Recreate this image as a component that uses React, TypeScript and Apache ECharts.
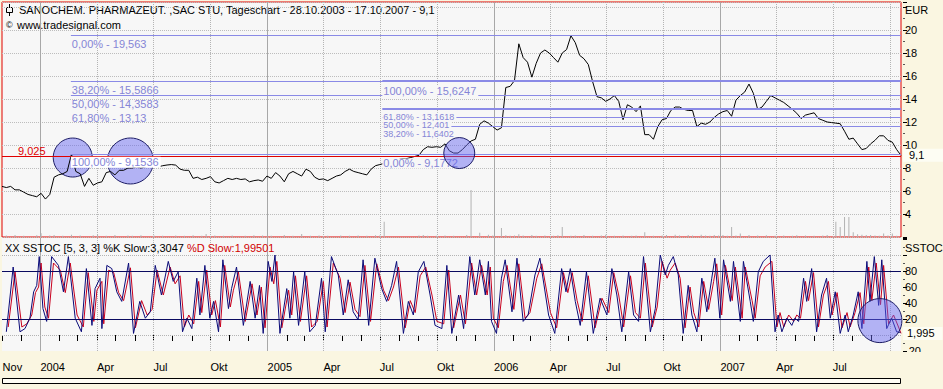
import React, { useEffect, useRef } from 'react';
import * as echarts from 'echarts';

const FONT = 'Liberation Sans';
const DAY = 86400000;
const START = Date.UTC(2003, 9, 31);
const SPAN_DAYS = 1449;
const END = START + SPAN_DAYS * DAY;
const WEEK = 7;

// weekly closing prices (EUR), first week = 31.10.2003
const priceWeekly = [
  6.4, 6.3, 6.4, 6.1, 6.1, 5.9, 5.7, 5.6, 5.5, 5.8,
  5.3, 5.7, 7.2, 7.4, 7.5, 7.7, 9.2, 7.7, 7.5, 6.4,
  7.1, 6.5, 6.7, 6.8, 7.6, 7.7, 7.4, 7.8, 7.8, 8.0,
  8.0, 8.1, 8.0, 8.1, 8.2, 8.26, 8.1, 8.2, 8.26, 8.3,
  8.25, 7.9, 7.8, 7.8, 7.1, 7.2, 7.0, 7.1, 7.25, 6.8,
  6.7, 6.9, 7.1, 7.0, 7.1, 7.0, 7.05, 6.8, 6.9, 6.96,
  6.85, 7.3, 7.1, 7.6, 7.3, 6.8, 7.5, 7.7, 7.5, 7.3,
  7.9, 7.7, 7.2, 7.0, 7.05, 6.9, 7.1, 7.3, 7.4, 7.7,
  7.9, 7.7, 7.6, 7.5, 7.4, 7.9, 8.2, 8.3, 8.4, 8.5,
  8.6, 8.7, 8.8, 8.8, 8.9, 9.0, 9.1, 9.6, 9.85, 9.8,
  9.85, 9.8, 10.1, 9.5, 9.3, 9.3, 9.6, 10.0, 10.35, 10.5,
  11.8, 12.1, 11.9, 11.6, 11.3, 11.5, 15.0, 15.1, 15.6, 18.8,
  17.6, 17.2, 15.9, 17.1, 18.0, 18.26, 18.0, 17.6, 17.2, 18.0,
  18.3, 19.5, 18.9, 17.8, 17.5, 17.0, 15.5, 14.2, 14.1, 13.8,
  14.0, 14.3, 13.8, 12.2, 13.5, 13.3, 12.9, 13.4, 10.9, 10.9,
  10.5, 11.6, 12.2, 12.3, 13.0, 13.3, 13.3, 13.1, 13.0, 13.0,
  11.6, 11.9, 11.8, 12.0, 12.4, 12.7, 12.9, 13.0, 12.5, 13.9,
  14.3, 14.6, 15.3, 14.5, 13.1, 13.3, 13.8, 14.3, 14.1, 13.9,
  13.7, 13.4, 13.1, 12.76, 12.3, 12.6, 12.7, 12.8, 12.3, 12.15,
  12.0, 11.95, 11.9, 11.85, 11.2, 10.5, 10.6, 10.1, 9.6, 9.7,
  10.1, 10.4, 10.8, 10.8, 10.4, 10.25, 9.6, 9.1,
];

// weekly volume (relative units)
const volumeWeekly = [
  0, 0.6, 0, 0.8, 0, 0.5, 0, 0, 0.7, 1.6,
  0, 0.6, 0.9, 0, 0.5, 0, 1.0, 0, 0.6, 0,
  0, 0.7, 1.2, 0, 0.5, 0, 0.8, 0, 0, 0.6,
  0.5, 0, 0.7, 0, 0, 0.6, 0, 0.5, 0, 0,
  0.6, 0, 0.5, 0, 0.7, 0, 0.5, 1.3, 0, 0.6,
  0, 0.5, 0, 0.6, 0, 0, 0.5, 0, 0.7, 0,
  0.6, 0, 0.5, 0, 0, 0.8, 0, 0.5, 0, 1.3,
  0, 0.5, 0, 0.6, 0, 0.5, 0, 0, 0.6, 0,
  0.5, 0, 0.6, 0, 0.5, 0, 0.7, 0.6, 6.5, 0,
  0, 0, 0, 0, 0, 0, 0.6, 0.8, 0.5, 0,
  0.5, 0, 0.6, 0, 0.5, 0, 0, 0.8, 20, 0,
  1.8, 0, 1.0, 0.6, 0, 3.8, 0.7, 0.5, 0.6, 1.2,
  0.6, 0, 0.9, 0.5, 0, 0.6, 0, 0.5, 0.7, 4.3,
  0, 0.5, 0.6, 0, 0.8, 0, 0.5, 0, 0.6, 1.0,
  0, 0.5, 0, 0.6, 0, 0.5, 0.6, 0, 2.0, 0,
  0.5, 0, 0.6, 0.8, 0, 1.0, 0.6, 0, 0.8, 0.6,
  0, 1.0, 0.6, 0.5, 0.9, 0.6, 0.8, 0.5, 4.3, 0.6,
  1.5, 0, 0.8, 0, 0.6, 0, 0.7, 0, 0.5, 0,
  0.6, 0, 0.5, 0.7, 0, 0.6, 0, 0.5, 0, 0.6,
  0.8, 0, 6.5, 4.3, 8.5, 8.5, 2.0, 1.2, 1.0, 0.8,
  0.8, 0.6, 0.5, 1.5, 0.6, 1.5, 0.5, 0,
];

// Slow stochastic %K turning points: [day since 31.10.2003, value]
const stochK: [number, number][] = [
  [7, 4], [18, 85], [29, 4], [37, 8], [45, 21], [51, 54], [56, 62], [60, 98], [66, 33], [72, 17],
  [80, 98], [91, 87], [99, 54], [107, 98], [118, 21], [128, 4], [136, 83], [145, 12], [150, 58], [158, 71],
  [161, 8], [169, 87], [177, 83], [185, 54], [193, 42], [204, 90], [212, 2], [222, 42], [231, 21], [239, 29],
  [247, 87], [257, 50], [268, 92], [276, 67], [284, 79], [291, 4], [298, 21], [306, 8], [314, 71], [319, 25],
  [327, 87], [335, 21], [341, 42], [349, 4], [356, 94], [365, 33], [370, 58], [378, 85], [389, 12], [400, 67],
  [408, 21], [415, 62], [421, 2], [429, 92], [435, 67], [440, 100], [448, 2], [459, 58], [464, 21], [470, 79],
  [478, 12], [488, 79], [496, 4], [505, 12], [515, 71], [521, 4], [531, 98], [542, 75], [550, 25], [558, 69],
  [566, 29], [574, 19], [582, 94], [591, 12], [601, 96], [612, 58], [620, 42], [628, 62], [636, 92], [647, 2],
  [655, 42], [663, 25], [671, 79], [680, 92], [690, 50], [698, 12], [709, 8], [717, 87], [725, 2], [736, 50],
  [744, 8], [754, 98], [762, 50], [770, 94], [779, 50], [784, 92], [789, 17], [797, 2], [805, 71], [811, 94],
  [822, 29], [830, 96], [840, 17], [848, 25], [859, 75], [867, 96], [881, 25], [891, 2], [902, 83], [909, 54],
  [916, 83], [924, 42], [932, 12], [942, 79], [953, 2], [964, 46], [975, 25], [983, 83], [991, 50], [999, 4],
  [1010, 79], [1018, 25], [1026, 17], [1034, 98], [1045, 4], [1053, 33], [1061, 100], [1069, 75], [1074, 87], [1082, 98],
  [1090, 75], [1098, 2], [1106, 62], [1112, 25], [1120, 4], [1128, 71], [1136, 29], [1144, 71], [1149, 96], [1157, 21],
  [1163, 94], [1174, 42], [1179, 92], [1190, 17], [1195, 92], [1206, 42], [1211, 17], [1219, 79], [1227, 92], [1238, 100],
  [1246, 4], [1251, 25], [1257, 4], [1265, 21], [1273, 12], [1278, 21], [1284, 17], [1292, 71], [1297, 42], [1305, 83],
  [1313, 4], [1321, 50], [1329, 71], [1335, 21], [1343, 54], [1351, 2], [1359, 25], [1364, 4], [1372, 25], [1380, 54],
  [1386, 8], [1394, 92], [1399, 42], [1406, 98], [1413, 37], [1418, 94], [1426, 8], [1434, 21], [1442, 4], [1448, 3.3],
];

// Slow stochastic %D turning points
const stochD: [number, number][] = [
  [10, 10], [21, 79], [32, 10], [40, 14], [48, 25], [54, 53], [59, 60], [63, 90], [69, 35], [75, 21],
  [83, 90], [94, 81], [102, 53], [110, 90], [121, 25], [131, 10], [139, 78], [148, 17], [153, 56], [161, 67],
  [164, 14], [172, 81], [180, 78], [188, 53], [196, 43], [207, 84], [215, 9], [225, 43], [234, 25], [242, 32],
  [250, 81], [260, 50], [271, 85], [279, 64], [287, 74], [294, 10], [301, 25], [309, 14], [317, 67], [322, 28],
  [330, 81], [338, 25], [344, 43], [352, 10], [359, 87], [368, 35], [373, 56], [381, 79], [392, 17], [403, 64],
  [411, 25], [418, 60], [424, 9], [432, 85], [438, 64], [443, 92], [451, 9], [462, 56], [467, 25], [473, 74],
  [481, 17], [491, 74], [499, 10], [508, 17], [518, 67], [524, 10], [534, 90], [545, 71], [553, 28], [561, 66],
  [569, 32], [577, 23], [585, 87], [594, 17], [604, 89], [615, 56], [623, 43], [631, 60], [639, 85], [650, 9],
  [658, 43], [666, 28], [674, 74], [683, 85], [693, 50], [701, 17], [712, 14], [720, 81], [728, 9], [739, 50],
  [747, 14], [757, 90], [765, 50], [773, 87], [782, 50], [787, 85], [792, 21], [800, 9], [808, 67], [814, 87],
  [825, 32], [833, 89], [843, 21], [851, 28], [862, 71], [870, 89], [884, 28], [894, 9], [905, 78], [912, 53],
  [919, 78], [927, 43], [935, 17], [945, 74], [956, 9], [967, 46], [978, 28], [986, 78], [994, 50], [1002, 10],
  [1013, 74], [1021, 28], [1029, 21], [1037, 90], [1048, 10], [1056, 35], [1064, 92], [1072, 71], [1077, 81], [1085, 90],
  [1093, 71], [1101, 9], [1109, 60], [1115, 28], [1123, 10], [1131, 67], [1139, 32], [1147, 67], [1152, 89], [1160, 25],
  [1166, 87], [1177, 43], [1182, 85], [1193, 21], [1198, 85], [1209, 43], [1214, 21], [1222, 74], [1230, 85], [1241, 92],
  [1249, 10], [1254, 28], [1260, 10], [1268, 25], [1276, 17], [1281, 25], [1287, 21], [1295, 67], [1300, 43], [1308, 78],
  [1316, 10], [1324, 50], [1332, 67], [1338, 25], [1346, 53], [1354, 9], [1362, 28], [1367, 10], [1375, 28], [1383, 53],
  [1389, 14], [1397, 85], [1402, 43], [1409, 90], [1416, 38], [1421, 87], [1429, 14], [1437, 25], [1445, 10], [1449, 2],
];

// Fibonacci retracements
const fibLeftStart = 111;
const fibLeftLevels = [19.563, 15.5866, 14.3583, 13.13, 9.1536];
const fibLeftPct = ['0,00%', '38,20%', '50,00%', '61,80%', '100,00%'];
const fibRightStart = 613;
const fibRightLevels = [15.6247, 13.1618, 12.401, 11.6402, 9.1772];
const fibRightPct = ['100,00%', '61,80%', '50,00%', '38,20%', '0,00%'];
const supportLevel = 9.025;
const lastPrice = 9.1;
const lastD = 1.995;

// marker circles (price panel / stochastic panel)
const circleDays = [114, 207, 737];
const circleVals = [8.91, 8.61, 9.3];
const circleSizes = [39, 46, 31];
const stochCircleDay = 1415;
const stochCircleVal = 18;
const stochCircleSize = 44;

const MONTHS_DE = ['Jan', 'Feb', 'Mär', 'Apr', 'Mai', 'Jun', 'Jul', 'Aug', 'Sep', 'Okt', 'Nov', 'Dez'];

const monthStarts: number[] = [];
{
  let y = 2003;
  let m = 10;
  while (y < 2007 || (y === 2007 && m <= 9)) {
    monthStarts.push(Date.UTC(y, m, 1));
    m++;
    if (m > 11) { m = 0; y++; }
  }
}
const labelStarts = monthStarts.filter((t, i) => {
  const m = new Date(t).getUTCMonth();
  return (i === 0 || m % 3 === 0) && t < Date.UTC(2007, 8, 1);
});
const yearStarts = monthStarts.filter((t) => new Date(t).getUTCMonth() === 0);
const quarterStarts = monthStarts.filter((t) => {
  const m = new Date(t).getUTCMonth();
  return m % 3 === 0 && m !== 0;
});

const dayTs = (d: number) => START + d * DAY;
const fmtNum = (v: number) => String(v).replace('.', ',');

const FIB_LINE = '#8a8ae6';
const FIB_TEXT = '#8585d6';
const PLOT_BG = '#f7f7f7';
const CREAM = '#faf6e1';
const CLEAR = 'rgba(0,0,0,0)';
const CIRCLE_FILL = 'rgba(100,100,240,0.47)';
const CIRCLE_EDGE = '#1e1e66';

function fibLabel(text: string, dy: number, lh: number, bg: string, fs: number) {
  return {
    show: true,
    position: 'insideStartBottom',
    distance: [0, dy],
    formatter: text,
    color: FIB_TEXT,
    opacity: 1,
    fontSize: fs,
    fontFamily: FONT,
    lineHeight: lh,
    backgroundColor: bg,
    padding: [0, 2, 0, 1],
  };
}

function buildFibLines() {
  const items: any[] = [];
  const leftCfg = [
    { dy: 5, lh: 8 }, { dy: 5, lh: 8 }, { dy: 5, lh: 8 }, { dy: 5, lh: 8 }, { dy: 2, lh: 11 },
  ];
  fibLeftLevels.forEach((lvl, i) => {
    const text = fibLeftPct[i] + ' - ' + fmtNum(lvl);
    const bg = i === 4 ? '#ffffff' : PLOT_BG;
    if (i === 3) {
      items.push([
        { coord: [dayTs(fibLeftStart), lvl], lineStyle: { color: CLEAR, width: 1, type: 'solid' }, label: fibLabel(text, leftCfg[i].dy, leftCfg[i].lh, bg, 11) },
        { coord: [dayTs(fibRightStart), lvl] },
      ]);
      items.push([
        { coord: [dayTs(fibRightStart), lvl], lineStyle: { color: FIB_LINE, width: 1, type: 'solid' }, label: { show: false } },
        { coord: [END, lvl] },
      ]);
    } else {
      items.push([
        { coord: [dayTs(fibLeftStart), lvl], lineStyle: { color: FIB_LINE, width: 1, type: 'solid' }, label: fibLabel(text, leftCfg[i].dy, leftCfg[i].lh, bg, 11) },
        { coord: [END, lvl] },
      ]);
    }
  });
  const rightCfg = [
    { dy: 5, lh: 11, fs: 11 }, { dy: 4, lh: 8, fs: 9 }, { dy: 4, lh: 8, fs: 9 }, { dy: 4, lh: 8, fs: 9 }, { dy: 4, lh: 10, fs: 11 },
  ];
  fibRightLevels.forEach((lvl, i) => {
    const text = fibRightPct[i] + ' - ' + fmtNum(lvl);
    items.push([
      { coord: [dayTs(fibRightStart), lvl], lineStyle: { color: FIB_LINE, width: 1, type: 'solid' }, label: fibLabel(text, rightCfg[i].dy, rightCfg[i].lh, PLOT_BG, rightCfg[i].fs) },
      { coord: [END, lvl] },
    ]);
  });
  return items;
}

function verticalGrid() {
  return [
    ...yearStarts.map((t) => ({ xAxis: t, lineStyle: { color: '#a8a8a8', type: 'solid', width: 1 } })),
    ...quarterStarts.map((t) => ({ xAxis: t, lineStyle: { color: '#b4b4b4', type: 'dotted', width: 1 } })),
  ];
}

export default function App() {
  const ref = useRef<HTMLDivElement>(null);

  useEffect(() => {
    if (!ref.current) return;
    const chart = echarts.init(ref.current, undefined, { renderer: 'svg' });

    const priceData = priceWeekly.map((v, i) => [START + i * WEEK * DAY, v]);
    const volData = volumeWeekly.map((v, i) => [START + i * WEEK * DAY, v]);
    const kData = stochK.map(([d, v]) => [dayTs(d), v]);
    const dData = stochD.map(([d, v]) => [dayTs(d), v]);

    const priceTop = 2 + 235 / 11.5;

    const valueLabel = (text: string, pad: number[]) => ({
      show: true, position: 'end', distance: [2, 0], formatter: text,
      color: '#000', opacity: 1, fontSize: 11, fontFamily: FONT, lineHeight: 11,
      backgroundColor: '#fdfdf3', padding: pad,
    });

    const option: any = {
      animation: false,
      backgroundColor: CREAM,
      textStyle: { fontFamily: FONT },
      grid: [
        { left: 2, top: 2, width: 899, height: 235, show: true, backgroundColor: PLOT_BG, borderColor: '#e00000', borderWidth: 1, containLabel: false, outerBoundsMode: 'none' },
        { left: 2, top: 238, width: 899, height: 113, show: true, backgroundColor: PLOT_BG, borderWidth: 0, containLabel: false, outerBoundsMode: 'none' },
      ],
      xAxis: [
        {
          type: 'value', gridIndex: 0, min: START, max: END,
          axisLabel: { show: false }, axisTick: { show: false }, axisLine: { show: false }, splitLine: { show: false },
        },
        {
          type: 'value', gridIndex: 1, min: START, max: END,
          axisLine: { show: false },
          splitLine: { show: false },
          axisTick: { show: true, length: 6, lineStyle: { color: '#000', width: 1 }, customValues: monthStarts },
          axisLabel: {
            show: true,
            customValues: labelStarts,
            formatter: (v: number) => {
              const d = new Date(v);
              const m = d.getUTCMonth();
              return m === 0 ? String(d.getUTCFullYear()) : MONTHS_DE[m];
            },
            align: 'left',
            margin: 10,
            color: '#000',
            fontSize: 11,
            fontFamily: FONT,
          },
        },
      ],
      yAxis: [
        {
          type: 'value', gridIndex: 0, position: 'right', offset: 2,
          min: 2, max: priceTop, interval: 2,
          axisLine: { show: false },
          axisTick: { show: true, length: 4, lineStyle: { color: '#000' } },
          minorTick: { show: true, splitNumber: 2, length: 2, lineStyle: { color: '#555' } },
          splitLine: { show: true, lineStyle: { color: '#bdbdbd', type: 'dotted', width: 1 } },
          minorSplitLine: { show: false },
          axisLabel: {
            formatter: (v: number) => (v >= 4 && v <= 20 ? String(v) : ''),
            margin: 2, color: '#000', fontSize: 11, fontFamily: FONT,
          },
        },
        { type: 'value', gridIndex: 0, show: false, min: 0, max: 100 },
        {
          type: 'value', gridIndex: 1, position: 'right', offset: 2,
          min: -20, max: 121.25, interval: 20,
          axisLine: { show: false },
          axisTick: { show: true, length: 4, lineStyle: { color: '#000' } },
          minorTick: { show: true, splitNumber: 2, length: 2, lineStyle: { color: '#555' } },
          splitLine: { show: false },
          axisLabel: {
            formatter: (v: number) => ([80, 60, 40, 20, -20].indexOf(v) >= 0 ? String(v) : ''),
            margin: 2, color: '#000', fontSize: 11, fontFamily: FONT,
          },
        },
      ],
      series: [
        {
          name: 'Volumen', type: 'bar', xAxisIndex: 0, yAxisIndex: 1,
          data: volData, barWidth: 1, silent: true, z: 1,
          itemStyle: { color: '#b2b2b2' },
          markLine: {
            z: 1, silent: true, symbol: 'none', animation: false,
            label: { show: false },
            data: verticalGrid(),
          },
        },
        {
          name: 'Kurs', type: 'line', xAxisIndex: 0, yAxisIndex: 0,
          data: priceData, showSymbol: false, silent: true, z: 4,
          lineStyle: { color: '#000', width: 1 },
          markLine: {
            z: 5, silent: true, symbol: 'none', animation: false,
            data: [
              ...buildFibLines(),
              {
                yAxis: supportLevel,
                lineStyle: { color: '#e00000', width: 1, type: 'solid' },
                label: { show: true, position: 'insideStartTop', distance: [16, 0], formatter: fmtNum(supportLevel), color: '#e00000', fontSize: 11, fontFamily: FONT, lineHeight: 10 },
              },
              {
                yAxis: lastPrice,
                lineStyle: { color: CLEAR, width: 1, type: 'solid' },
                label: valueLabel(fmtNum(lastPrice), [1, 20, 1, 6]),
              },
            ],
          },
        },
        {
          name: 'Kreise', type: 'scatter', xAxisIndex: 0, yAxisIndex: 0, silent: true, z: 3,
          symbol: 'circle',
          data: circleDays.slice(0, 2).map((d, i) => ({ value: [dayTs(d), circleVals[i]], symbolSize: circleSizes[i] })),
          itemStyle: { color: CIRCLE_FILL, borderColor: CIRCLE_EDGE, borderWidth: 1, opacity: 1 },
        },
        {
          name: 'Kreis2', type: 'scatter', xAxisIndex: 0, yAxisIndex: 0, silent: true, z: 6,
          symbol: 'circle',
          data: circleDays.slice(2).map((d, i) => ({ value: [dayTs(d), circleVals[i + 2]], symbolSize: circleSizes[i + 2] })),
          itemStyle: { color: CIRCLE_FILL, borderColor: CIRCLE_EDGE, borderWidth: 1, opacity: 1 },
        },
        {
          name: '%D Slow', type: 'line', xAxisIndex: 1, yAxisIndex: 2,
          data: dData, showSymbol: false, silent: true, z: 2,
          lineStyle: { color: '#c8001e', width: 1 },
          markLine: {
            z: 1, silent: true, symbol: 'none', animation: false,
            label: { show: false },
            data: [
              ...verticalGrid(),
              { yAxis: 100, lineStyle: { color: '#b4b4b4', type: 'dotted', width: 1 } },
              { yAxis: 0, lineStyle: { color: '#b4b4b4', type: 'dotted', width: 1 } },
            ],
          },
        },
        {
          name: '%K Slow', type: 'line', xAxisIndex: 1, yAxisIndex: 2,
          data: kData, showSymbol: false, silent: true, z: 3,
          lineStyle: { color: '#0a0a78', width: 1 },
          markLine: {
            z: 4, silent: true, symbol: 'none', animation: false,
            data: [
              { yAxis: 80, lineStyle: { color: '#0a0a60', type: 'solid', width: 1 }, label: { show: false } },
              { yAxis: 20, lineStyle: { color: '#0a0a60', type: 'solid', width: 1 }, label: { show: false } },
              {
                yAxis: lastD,
                lineStyle: { color: CLEAR, width: 1, type: 'solid' },
                label: valueLabel(fmtNum(lastD), [1, 8, 1, 4]),
              },
            ],
          },
        },
        {
          name: 'KreisS', type: 'scatter', xAxisIndex: 1, yAxisIndex: 2, silent: true, z: 6,
          symbol: 'circle',
          data: [{ value: [dayTs(stochCircleDay), stochCircleVal], symbolSize: stochCircleSize }],
          itemStyle: { color: CIRCLE_FILL, borderColor: CIRCLE_EDGE, borderWidth: 1, opacity: 1 },
        },
      ],
      graphic: [
        { type: 'line', shape: { x1: 9.5, y1: 4, x2: 9.5, y2: 16 }, style: { stroke: '#000', lineWidth: 1 }, silent: true },
        { type: 'rect', shape: { x: 6.5, y: 7.5, width: 6, height: 5 }, style: { fill: PLOT_BG, stroke: '#000', lineWidth: 1 }, silent: true },
        {
          type: 'text', x: 19, y: 10, silent: true,
          style: { text: 'SANOCHEM. PHARMAZEUT. ,SAC STU, Tageschart - 28.10.2003 - 17.10.2007 - 9,1', fill: '#000', fontSize: 11, fontFamily: FONT, verticalAlign: 'middle' },
        },
        { type: 'text', x: 6, y: 25, silent: true, style: { text: '©', fill: '#000', fontSize: 9, fontFamily: FONT, verticalAlign: 'middle' } },
        { type: 'text', x: 17, y: 25, silent: true, style: { text: 'www.tradesignal.com', fill: '#000', fontSize: 11, fontFamily: FONT, verticalAlign: 'middle' } },
        {
          type: 'text', x: 5, y: 248, silent: true, z: 10,
          style: {
            text: '{k|XX SSTOC [5, 3, 3] %K Slow:3,3047} {d|%D Slow:1,99501}',
            verticalAlign: 'middle', fontSize: 11, fontFamily: FONT,
            rich: {
              k: { fill: '#000', fontSize: 11, fontFamily: FONT },
              d: { fill: '#d00000', fontSize: 11, fontFamily: FONT },
            },
          },
        },
        { type: 'text', x: 905, y: 10, silent: true, style: { text: 'EUR', fill: '#000', fontSize: 11, fontFamily: FONT, verticalAlign: 'middle' } },
        { type: 'text', x: 905, y: 248, silent: true, style: { text: 'SSTOC', fill: '#000', fontSize: 11, fontFamily: FONT, verticalAlign: 'middle' } },
        { type: 'rect', z: 100, silent: true, shape: { x: 902, y: 352, width: 41, height: 10 }, style: { fill: CREAM } },
        { type: 'rect', silent: true, shape: { x: 2.5, y: 378.5, width: 898, height: 5 }, style: { fill: '#fefdf4', stroke: '#000', lineWidth: 1 } },
      ],
    };

    chart.setOption(option);
    return () => chart.dispose();
  }, []);

  return <div ref={ref} style={{ position: 'absolute', left: 0, top: 0, width: 943, height: 389 }} />;
}
